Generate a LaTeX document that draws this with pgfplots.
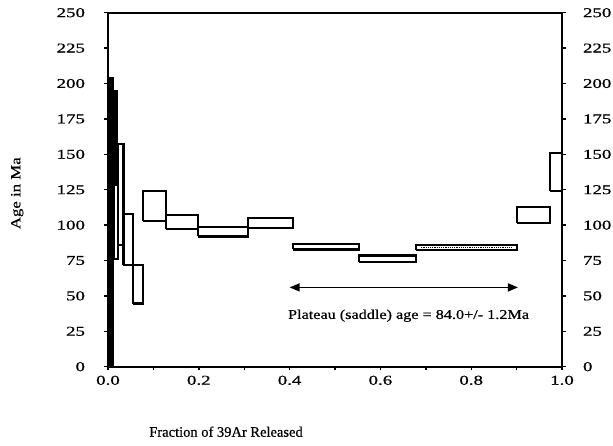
\documentclass[border=0pt]{standalone}
\usepackage{fontspec}
\setmainfont{Liberation Serif}[FakeBold=0.6]
\newfontfamily\tickfont{Liberation Serif}[FakeStretch=1.4, FakeBold=0.8]
\newfontfamily\labfont{Liberation Serif}[FakeStretch=1.2, FakeBold=0.6]
\newfontfamily\xlabfont{Liberation Serif}[FakeBold=0.6]
\usepackage{pgfplots}
\pgfplotsset{compat=1.18}
\usetikzlibrary{arrows.meta}
\begin{document}
\begin{tikzpicture}
\pgfplotsset{
  common/.style={
    scale only axis, width=454bp, height=354bp,
    xmin=0, xmax=1, ymin=0, ymax=250,
    ytick={0,25,...,250},
    tick align=outside, major tick length=3.5bp,
    tick style={black, line width=1.4bp},
    /pgf/number format/assume math mode=true,
    tick label style={font=\tickfont\fontsize{13.5bp}{15bp}\selectfont},
    axis line style={line width=2bp},
  }
}
\begin{axis}[common, name=ax,
  xtick pos=bottom, ytick pos=left,
  xtick={0,0.1,...,1.0},
  xticklabels={0.0,,0.2,,0.4,,0.6,,0.8,,1.0},
  xticklabel style={yshift=-2bp},
  yticklabel style={xshift=-16bp},
  xlabel={\xlabfont Fraction of 39Ar Released},
  xlabel style={at={(axis description cs:0.26,0)}, anchor=center, yshift=-65bp,
    font=\fontsize{14.5bp}{16bp}\selectfont},
  ylabel={\labfont Age in Ma},
  ylabel style={at={(axis description cs:-0.2,0.49)}, anchor=center,
    font=\fontsize{14bp}{16bp}\selectfont},
  clip=false,
]
% early steps, large errors (filled)
\addplot[draw=black, fill=black, line width=1pt] coordinates {(0,0) (0,204) (0.012,204) (0.012,0) (0,0)};
\addplot[draw=black, fill=black, line width=1pt] coordinates {(0.012,128) (0.012,195) (0.022,195) (0.022,128) (0.012,128)};
\addplot[draw=black, line width=2bp] coordinates {(0.014,76) (0.014,128) (0.021,128) (0.021,76) (0.014,76)};
% step boxes
\addplot[draw=black, line width=2.2bp, unbounded coords=jump] coordinates {
 (0.022,86) (0.022,157) (0.034,157) (0.034,86) (0.022,86) (nan,nan)
 (0.034,72) (0.034,108) (0.055,108) (0.055,72) (0.034,72) (nan,nan)
 (0.055,44.6) (0.055,72) (0.077,72) (0.077,44.6) (0.055,44.6) (nan,nan)
 (0.077,103) (0.077,124) (0.128,124) (0.128,103) (0.077,103) (nan,nan)
 (0.128,97) (0.128,107) (0.198,107) (0.198,97) (0.128,97) (nan,nan)
 (0.198,92) (0.198,98.4) (0.308,98.4) (0.308,92) (0.198,92) (nan,nan)
 (0.308,98) (0.308,105) (0.407,105) (0.407,98) (0.308,98) (nan,nan)
 (0.407,82.8) (0.407,86.6) (0.553,86.6) (0.553,82.8) (0.407,82.8) (nan,nan)
 (0.553,74) (0.553,78.6) (0.678,78.6) (0.678,74) (0.553,74) (nan,nan)
 (0.678,82.6) (0.678,85.7) (0.901,85.7) (0.901,82.6) (0.678,82.6) (nan,nan)
 (0.901,101.5) (0.901,112.6) (0.974,112.6) (0.974,101.5) (0.901,101.5) (nan,nan)
 (0.974,124) (0.974,151) (1.0,151) (1.0,124) (0.974,124)
};
\addplot[black, densely dotted, line width=1.2pt] coordinates {(0.69,84.2) (0.89,84.2)};
% plateau arrow and label
\draw[{Triangle[length=10bp,width=8bp]}-{Triangle[length=10bp,width=8bp]}, line width=1.5bp]
  (axis cs:0.40,56) -- (axis cs:0.903,56);
\node[font=\labfont\fontsize{13.5bp}{16bp}\selectfont] at (axis cs:0.662,36)
  {Plateau (saddle) age = 84.0+/- 1.2Ma};
\end{axis}
\begin{axis}[common,
  hide x axis, axis y line*=right,
  yticklabel style={xshift=14bp, anchor=west},
]
\addplot[draw=none] coordinates {(0,0)};
\end{axis}
\pgfresetboundingbox
\path ([shift={(-108bp,-79bp)}]ax.south west) rectangle ([shift={(51bp,12.7bp)}]ax.north east);
\end{tikzpicture}
\end{document}
